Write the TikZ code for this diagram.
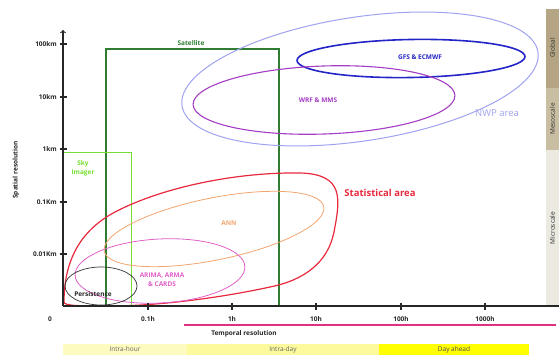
\documentclass[tikz,border=0pt]{standalone}
\usepackage{fontspec}
\setmainfont{Open Sans}
\usetikzlibrary{positioning}

\definecolor{satgreen}{HTML}{2E7D32}
\definecolor{skygreen}{HTML}{77DD33}
\definecolor{statred}{HTML}{E8283C}
\definecolor{annorange}{HTML}{F2A46E}
\definecolor{arimapink}{HTML}{E060C8}
\definecolor{nwpblue}{HTML}{A0A2F0}
\definecolor{gfsblue}{HTML}{2424C8}
\definecolor{wrfpurple}{HTML}{A43CC4}
\definecolor{timepink}{HTML}{E0307F}
\definecolor{hourband}{HTML}{FDFBC0}
\definecolor{dayband}{HTML}{FCFA9C}
\definecolor{aheadband}{HTML}{FFFF00}
\definecolor{globalband}{HTML}{B5A584}
\definecolor{mesoband}{HTML}{C9BEA2}
\definecolor{microband}{HTML}{ECE9E0}

\tikzset{
  lbl/.style={font=\fontsize{6.5}{7.5}\selectfont\bfseries, inner sep=0pt, text=black!85},
  axis/.style={line width=1.1pt, black!85},
  band/.style={draw=none, inner sep=0pt, font=\fontsize{6.5}{7.5}\selectfont, text=black!60}
}

\begin{document}
\begin{tikzpicture}[x=1pt,y=-1pt]
  \useasboundingbox (0,0) rectangle (559,355);

  % scale bands (right)
  \fill[globalband] (546,9) rectangle (559,88);
  \fill[mesoband] (546,88) rectangle (559,150);
  \fill[microband] (546,150) rectangle (559,305);
  \node[band,rotate=90,text=black!80] (global) at (552.5,48) {Global};
  \node[band,rotate=90,text=black!80] (meso) at (552.5,119) {Mesoscale};
  \node[band,rotate=90,text=black!80] (micro) at (552.5,228) {Microscale};

  % horizon bands (bottom)
  \fill[hourband] (63,344) rectangle (187,355);
  \fill[dayband] (187,344) rectangle (379,355);
  \fill[aheadband] (379,344) rectangle (529,355);
  \node[band] (intrahour) at (125,349.5) {Intra-hour};
  \node[band] (intraday) at (283,349.5) {Intra-day};
  \node[band,text=black!70] (dayahead) at (454,349.5) {Day ahead};

  % sensors
  \draw[satgreen,line width=1.2pt] (106,49) rectangle (279,306);
  \node[lbl,text=satgreen] (satellite) at (191,43) {Satellite};
  \draw[skygreen,line width=1pt] (63,153) rectangle (131,306);
  \node[lbl,text=skygreen,align=center,font=\fontsize{6.5}{9}\selectfont\bfseries] (sky) at (83,168) {Sky\\Imager};

  % NWP models
  \draw[nwpblue,line width=1pt,rotate around={8.6:(360,79)}] (360,79) ellipse (180 and 62);
  \draw[gfsblue,line width=1.6pt,rotate around={1:(411,58.5)}] (411,58.5) ellipse (114 and 19);
  \draw[wrfpurple,line width=1.1pt,rotate around={2:(324,100)}] (324,100) ellipse (131 and 34);
  \node[lbl,text=gfsblue] (gfs) at (420,57) {GFS \& ECMWF};
  \node[lbl,text=wrfpurple] (wrf) at (318,100) {WRF \& MMS};
  \node[inner sep=0pt,text=nwpblue,font=\fontsize{9.5}{11}\selectfont] (nwp) at (497,113) {NWP area};

  % statistical models
  \draw[statred,line width=1.2pt] (64,302) .. controls (64,255) and (85,228) .. (115,212)
    .. controls (165,186) and (240,172) .. (300,173)
    .. controls (345,174) and (340,200) .. (334,232)
    .. controls (328,262) and (305,280) .. (270,287)
    .. controls (210,300) and (150,306) .. (110,306)
    .. controls (80,306) and (64,306) .. (64,302) -- cycle;
  \node[inner sep=0pt,text=statred,font=\fontsize{9.5}{11}\selectfont\bfseries] (stat) at (380,193) {Statistical area};
  \draw[annorange,line width=0.8pt,rotate around={11.5:(214,229)}] (214,229) ellipse (112 and 31);
  \node[lbl,text=annorange] (ann) at (229,223) {ANN};
  \draw[arimapink,line width=0.8pt,rotate around={3:(160,271)}] (160,271) ellipse (85 and 32);
  \node[lbl,text=arimapink,align=center,font=\fontsize{6.5}{9}\selectfont\bfseries] (arima) at (162,280) {ARIMA, ARMA\\\& CARDS};
  \draw[black!80,line width=0.7pt] (101,286) ellipse (36 and 19);
  \node[lbl] (persist) at (93,294) {Persistence};

  % axes
  \coordinate (origin) at (63,306);
  \coordinate (ytop) at (63,30);
  \coordinate (xend) at (559,306);
  \draw[axis,->] (origin) -- (ytop);
  \draw[axis] (origin) -- (xend);
  \foreach \yy/\txt [count=\i] in {44/100km,97/10km,149/1km,202/0.1Km,254/0.01Km}{
    \draw[axis] (59.5,\yy) -- (66.5,\yy);
    \node[lbl,anchor=east] (ylab\i) at (57,\yy) {\txt};
  }
  \foreach \xx/\txt [count=\i] in {148/0.1h,232/1h,316/10h,401/100h,485/1000h}{
    \draw[axis] (\xx,302.5) -- (\xx,309.5);
    \node[lbl] (xlab\i) at (\xx,319) {\txt};
  }
  \node[lbl] (zero) at (50,319) {0};
  \node[lbl,rotate=90] (ytitle) at (16,170) {Spatial resolution};

  % temporal resolution
  \coordinate (tstart) at (184,325);
  \coordinate (tend) at (556,325);
  \draw[timepink,line width=1.2pt] (tstart) -- (tend);
  \node[lbl] (xtitle) at (244,334) {Temporal resolution};
\end{tikzpicture}
\end{document}
